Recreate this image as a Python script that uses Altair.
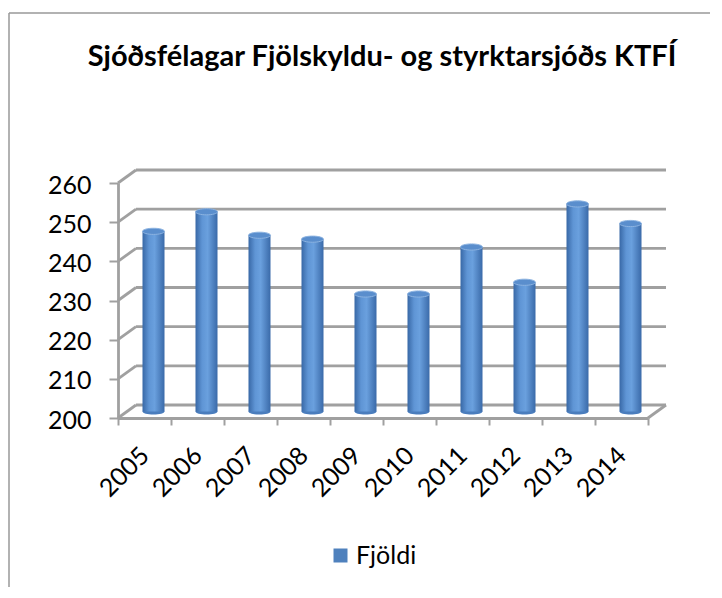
import altair as alt
import pandas as pd

# ---- data ----
years = ["2005", "2006", "2007", "2008", "2009", "2010", "2011", "2012", "2013", "2014"]
values = [246, 251, 245, 244, 230, 230, 242, 233, 253, 248]
y_ticks = [200, 210, 220, 230, 240, 250, 260]
series_name = "Fjöldi"
title_text = "Sjóðsfélagar Fjölskyldu- og styrktarsjóðs KTFÍ"

df = pd.DataFrame({"year": years, "value": values})
grid_df = pd.DataFrame({"v": y_ticks})
legend_df = pd.DataFrame({"s": [series_name]})
title_df = pd.DataFrame({"t": [title_text]})

W, H = 530, 235
DX, DY = 18, -13  # perspective depth offset
GRID = "#a0a0a0"
FONT = "Lato"

yscale = alt.Scale(domain=[200, 260], zero=False, nice=False)
xscale = alt.Scale(paddingInner=0, paddingOuter=0)

yaxis = alt.Axis(values=y_ticks, grid=False, labelFont=FONT, labelFontSize=25,
                 labelColor="black", labelPadding=18, tickSize=9,
                 labelOverlap=False, labelBound=False, labelFlush=False,
                 tickColor=GRID, tickWidth=2, domainColor=GRID, domainWidth=2.8,
                 labelOffset=2)
xaxis = alt.Axis(labelAngle=-45, labelAlign="right", labelBaseline="middle",
                 labelFont=FONT, labelFontSize=25, labelColor="black",
                 labelPadding=26, tickSize=7, tickBand="extent", labelOverlap=False,
                 tickColor=GRID, tickWidth=2, domainColor=GRID, domainWidth=2.8)

# back-wall gridlines
grid_back = alt.Chart(grid_df).mark_rule(
    color=GRID, strokeWidth=2.8, yOffset=DY, y2Offset=DY
).encode(
    y=alt.Y("v:Q", scale=yscale, axis=yaxis, title=None),
    x=alt.value(DX), x2=alt.value(W + DX),
)
# side-wall diagonals
grid_side = alt.Chart(grid_df).mark_rule(
    color=GRID, strokeWidth=2.8, yOffset=0, y2Offset=DY
).encode(
    y=alt.Y("v:Q", scale=yscale, axis=yaxis, title=None), y2="v:Q",
    x=alt.value(0), x2=alt.value(DX),
)
# right floor edge
floor_right = alt.Chart(grid_df).transform_filter("datum.v == 200").mark_rule(
    color=GRID, strokeWidth=2.8, yOffset=0, y2Offset=DY
).encode(
    y=alt.Y("v:Q", scale=yscale, axis=yaxis, title=None), y2="v:Q",
    x=alt.value(W), x2=alt.value(W + DX),
)

grad = alt.Gradient(
    gradient="linear", x1=0, x2=1, y1=0, y2=0,
    stops=[
        alt.GradientStop(color="#3868a6", offset=0),
        alt.GradientStop(color="#5f95d5", offset=0.3),
        alt.GradientStop(color="#6aa0de", offset=0.55),
        alt.GradientStop(color="#3a6aa9", offset=1),
    ],
)

ellipse = "M -1 0 A 1 0.28 0 1 1 1 0 A 1 0.28 0 1 1 -1 0 Z"
bottoms = alt.Chart(df).mark_point(
    shape=ellipse, size=484, filled=True, color="#4a7dbd", opacity=1,
    strokeWidth=0, xOffset=DX / 2, yOffset=DY / 2
).encode(
    x=alt.X("year:N", sort=None, scale=xscale, axis=xaxis, title=None),
    y=alt.Y(datum=200, scale=yscale, axis=yaxis, title=None),
)

bars = alt.Chart(df).mark_bar(
    size=22, xOffset=DX / 2, x2Offset=DX / 2, yOffset=DY / 2, y2Offset=DY / 2, color=grad
).encode(
    x=alt.X("year:N", sort=None, scale=xscale, axis=xaxis, title=None),
    y=alt.Y("value:Q", scale=yscale, axis=yaxis, title=None),
    y2=alt.datum(200),
)

tops = alt.Chart(df).mark_point(
    shape=ellipse, size=484, filled=True, color="#5a8ecd", stroke="#8cb3e1",
    strokeWidth=1, opacity=1, xOffset=DX / 2, yOffset=DY / 2
).encode(
    x=alt.X("year:N", sort=None, scale=xscale, axis=xaxis, title=None),
    y=alt.Y("value:Q", scale=yscale, axis=yaxis, title=None),
)

legend_layer = alt.Chart(legend_df).mark_square(opacity=0, size=1).encode(
    x=alt.value(0), y=alt.value(0),
    color=alt.Color("s:N", scale=alt.Scale(range=["#4F81BD"]),
                    legend=alt.Legend(orient="none", legendX=210, legendY=360, title=None,
                                      symbolType="square", symbolSize=196, symbolOpacity=1,
                                      symbolStrokeWidth=0, labelFont=FONT, labelFontSize=25,
                                      labelColor="black", labelOffset=3)),
)

title_layer = alt.Chart(title_df).mark_text(
    font=FONT, fontSize=29, fontWeight="bold", color="black",
    align="center", baseline="alphabetic"
).encode(text="t:N", x=alt.value(264), y=alt.value(-117))

border_top = alt.Chart(title_df).mark_rule(color="#999999", strokeWidth=1.5).encode(
    x=alt.value(-109), x2=alt.value(592), y=alt.value(-170))
border_left = alt.Chart(title_df).mark_rule(color="#999999", strokeWidth=1.5).encode(
    x=alt.value(-109), y=alt.value(-170), y2=alt.value(404))

chart = alt.layer(
    border_top, border_left, grid_back, grid_side, floor_right,
    bottoms, bars, tops, legend_layer, title_layer
).properties(
    width=W, height=H, padding={"left": 0, "top": 4, "right": 0, "bottom": 0},
    background="white",
).resolve_scale(color="independent").configure_view(stroke=None)

chart.save("out.html", embed_options={"renderer": "svg", "actions": False})
